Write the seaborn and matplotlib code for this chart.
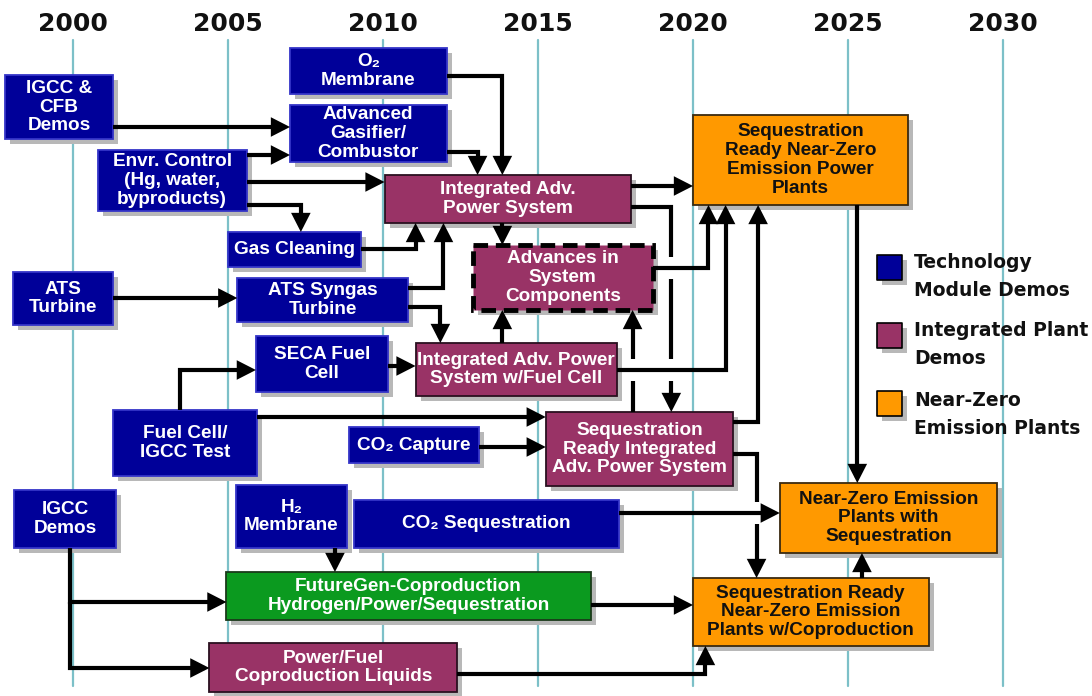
import matplotlib
matplotlib.use("Agg")
import matplotlib.pyplot as plt
import matplotlib.transforms as mtransforms
from matplotlib.patches import Rectangle, FancyArrowPatch
from matplotlib.path import Path
import seaborn as sns
import pandas as pd

# ------------------------------------------------------------
# Data: timeline years, boxes (start/end year, row span), links
# ------------------------------------------------------------
years = [2000, 2005, 2010, 2015, 2020, 2025, 2030]

box_labels = [
    "IGCC &\nCFB\nDemos",
    "O\u2082\nMembrane",
    "Advanced\nGasifier/\nCombustor",
    "Envr. Control\n(Hg, water,\nbyproducts)",
    "Integrated Adv.\nPower System",
    "Sequestration\nReady Near-Zero\nEmission Power\nPlants",
    "Gas Cleaning",
    "Advances in\nSystem\nComponents",
    "ATS\nTurbine",
    "ATS Syngas\nTurbine",
    "SECA Fuel\nCell",
    "Integrated Adv. Power\nSystem w/Fuel Cell",
    "Fuel Cell/\nIGCC Test",
    "CO\u2082 Capture",
    "Sequestration\nReady Integrated\nAdv. Power System",
    "IGCC\nDemos",
    "H\u2082\nMembrane",
    "CO\u2082 Sequestration",
    "Near-Zero Emission\nPlants with\nSequestration",
    "FutureGen-Coproduction\nHydrogen/Power/Sequestration",
    "Sequestration Ready\nNear-Zero Emission\nPlants w/Coproduction",
    "Power/Fuel\nCoproduction Liquids",
]
box_kind = ["tech", "tech", "tech", "tech", "plant", "nze", "tech", "plant",
            "tech", "tech", "tech", "plant", "tech", "tech", "plant", "tech",
            "tech", "tech", "nze", "futuregen", "nze", "plant"]
box_start = [1997.8, 2007.0, 2007.0, 2000.8, 2010.05, 2020.0, 2005.0, 2012.9,
             1998.05, 2005.3, 2005.9, 2011.05, 2001.3, 2008.9, 2015.25, 1998.1,
             2005.25, 2009.05, 2022.8, 2004.95, 2020.0, 2004.4]
box_end = [2001.3, 2012.05, 2012.05, 2005.6, 2018.0, 2026.95, 2009.3, 2018.7,
           2001.3, 2010.8, 2010.15, 2017.55, 2005.95, 2013.1, 2021.3, 2001.4,
           2008.85, 2017.6, 2029.8, 2016.7, 2027.6, 2012.4]
box_top = [75, 48, 105, 150, 175, 115, 232, 245, 272, 278, 336, 343, 410, 427,
           412, 490, 485, 500, 483, 572, 578, 643]
box_bottom = [139, 94, 162, 211, 223, 205, 267, 310, 325, 322, 392, 396, 476,
              463, 486, 548, 548, 548, 553, 620, 646, 692]

# links: (year, row) route, arrowhead at the last point; hop rows break the last leg
link_routes = [
    [(2001.3, 127), (2007.0, 127)],
    [(2005.6, 155), (2007.0, 155)],
    [(2005.6, 182), (2010.05, 182)],
    [(2005.6, 205), (2007.35, 205), (2007.35, 232)],
    [(2012.05, 76), (2013.85, 76), (2013.85, 175)],
    [(2012.05, 152), (2013.05, 152), (2013.05, 175)],
    [(2009.3, 249), (2011.05, 249), (2011.05, 223)],
    [(2010.8, 288), (2011.95, 288), (2011.95, 223)],
    [(2013.85, 223), (2013.85, 245)],
    [(2018.0, 186), (2020.0, 186)],
    [(2018.0, 207), (2019.3, 207), (2019.3, 412)],
    [(2018.7, 268), (2020.5, 268), (2020.5, 205)],
    [(2017.55, 370), (2021.05, 370), (2021.05, 205)],
    [(2021.3, 422), (2022.1, 422), (2022.1, 205)],
    [(2010.8, 307), (2011.85, 307), (2011.85, 343)],
    [(2013.85, 343), (2013.85, 310)],
    [(2018.05, 412), (2018.05, 310)],
    [(2003.45, 410), (2003.45, 370), (2005.9, 370)],
    [(2005.95, 417), (2015.25, 417)],
    [(2013.1, 447), (2015.25, 447)],
    [(2025.3, 205), (2025.3, 483)],
    [(2017.6, 513), (2022.8, 513)],
    [(2021.3, 454), (2022.05, 454), (2022.05, 578)],
    [(2025.45, 578), (2025.45, 553)],
    [(2016.7, 605), (2020.0, 605)],
    [(2012.4, 674), (2020.4, 674), (2020.4, 646)],
    [(1999.9, 548), (1999.9, 602), (2004.95, 602)],
    [(1999.9, 602), (1999.9, 668), (2004.4, 668)],
    [(2008.45, 548), (2008.45, 572)],
    [(2001.3, 298), (2005.3, 298)],
    [(2010.15, 366), (2011.05, 366)],
]
link_hops = {10: [268, 370], 16: [370], 22: [513]}

legend_labels = ["Technology\nModule Demos", "Integrated Plant\nDemos",
                 "Near-Zero\nEmission Plants"]
legend_kind = ["tech", "plant", "nze"]

# ------------------------------------------------------------
# Styling
# ------------------------------------------------------------
fill = {"tech": "#000099", "plant": "#993366", "nze": "#ff9900",
        "futuregen": "#0b9a1f"}
edge = {"tech": "#3535c8", "plant": "#2a1020", "nze": "#3a2a10",
        "futuregen": "#1a3a1a"}
text_col = {"tech": "white", "plant": "white", "nze": "#111111",
            "futuregen": "white"}

sns.set_theme(style="white")
plt.rcParams['font.family'] = ['Liberation Sans', 'DejaVu Sans']

fig = plt.figure(figsize=(10.92, 6.96), dpi=100)
ax = fig.add_axes([0, 0, 1, 1])
ax.set_xlim(2000 - 73 / 31, 2000 + 1019 / 31)
ax.set_ylim(696, 0)
ax.set_axis_off()

# year grid lines and headers
for yr in years:
    ax.plot([yr, yr], [40, 686], color="#7cc0c8", lw=1.6, zorder=1)
    ax.text(yr, 24, str(yr), ha="center", va="center", fontsize=18,
            fontweight="bold", family=["DejaVu Sans"], color="#111111")

shadow = mtransforms.offset_copy(ax.transData, fig=fig, x=5, y=-5, units="dots")

# boxes
for lab, kind, x0, x1, y0, y1 in zip(box_labels, box_kind, box_start, box_end,
                                     box_top, box_bottom):
    ax.add_patch(Rectangle((x0, y0), x1 - x0, y1 - y0, transform=shadow,
                           facecolor="#b8b8b8", edgecolor="none", zorder=2))
    dashed = lab.startswith("Advances")
    ax.add_patch(Rectangle((x0, y0), x1 - x0, y1 - y0, facecolor=fill[kind],
                           edgecolor="black" if dashed else edge[kind],
                           lw=3.5 if dashed else 1.3,
                           linestyle=(0, (3, 1.6)) if dashed else "-",
                           zorder=3))
    ax.text((x0 + x1) / 2, (y0 + y1) / 2, lab, ha="center", va="center",
            fontsize=13.7, fontweight="bold", color=text_col[kind],
            linespacing=1.14, zorder=6)

# links
LW = 3.0
GAP = 11
for i, pts in enumerate(link_routes):
    cur = list(pts[:-1])
    xe, ye = pts[-1]
    d = 1 if ye > pts[-2][1] else -1
    for g in sorted(link_hops.get(i, []), key=lambda r: r * d):
        cur.append((xe, g - d * GAP))
        ax.plot(*zip(*cur), color="black", lw=LW, solid_joinstyle="miter",
                solid_capstyle="butt", zorder=4)
        cur = [(xe, g + d * GAP)]
    cur.append((xe, ye))
    ax.add_patch(FancyArrowPatch(path=Path(cur),
                                 arrowstyle="-|>,head_length=9,head_width=4.6",
                                 mutation_scale=1, color="black", lw=LW,
                                 joinstyle="miter", capstyle="butt", zorder=4))

# legend
leg = pd.DataFrame({"kind": legend_kind, "x": [2026.35] * 3, "row": [267, 335, 403]})
sns.scatterplot(data=leg, x=leg["x"] + 0.16, y=leg["row"] + 5, marker="s", s=324,
                color="#b8b8b8", edgecolor="none", legend=False, ax=ax, zorder=2)
sns.scatterplot(data=leg, x="x", y="row", hue="kind", palette=fill, marker="s",
                s=324, edgecolor="black", linewidth=1.2, legend=False, ax=ax,
                zorder=3)
for lab, r in zip(legend_labels, [277, 345, 414]):
    ax.text(2027.13, r, lab, ha="left", va="center", fontsize=13.5,
            fontweight="bold", family=["DejaVu Sans"], color="#111111",
            linespacing=1.6)

ax.set_xlim(2000 - 73 / 31, 2000 + 1019 / 31)
ax.set_ylim(696, 0)
fig.savefig("out.png", dpi=100, facecolor="white")
